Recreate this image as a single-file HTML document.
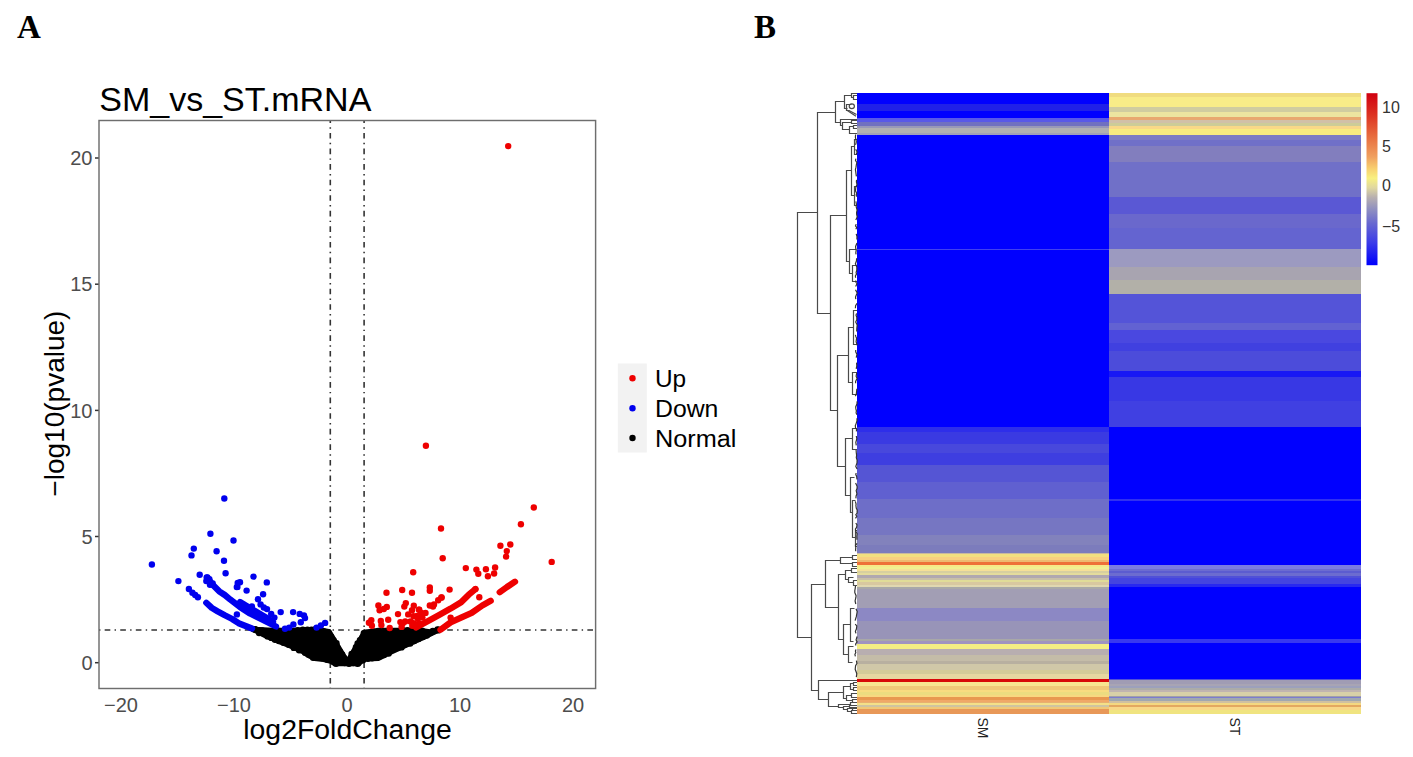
<!DOCTYPE html>
<html><head><meta charset="utf-8"><style>
html,body{margin:0;padding:0;background:#fff;}
svg{display:block;}
text{font-family:"Liberation Sans",sans-serif;}
</style></head><body>
<svg width="1413" height="757" viewBox="0 0 1413 757">
<rect width="1413" height="757" fill="#fff"/>
<text x="17" y="38" style="font-family:'Liberation Serif',serif;font-weight:bold;font-size:33px">A</text>
<text x="754" y="38" style="font-family:'Liberation Serif',serif;font-weight:bold;font-size:33px">B</text>
<text x="99.3" y="110.6" font-size="34" fill="#000">SM_vs_ST.mRNA</text>

<line x1="95" y1="662.7" x2="99" y2="662.7" stroke="#333" stroke-width="1.5"/>
<text x="92.5" y="669.8" font-size="20" fill="#4D4D4D" text-anchor="end">0</text>
<line x1="95" y1="536.5" x2="99" y2="536.5" stroke="#333" stroke-width="1.5"/>
<text x="92.5" y="543.6" font-size="20" fill="#4D4D4D" text-anchor="end">5</text>
<line x1="95" y1="410.4" x2="99" y2="410.4" stroke="#333" stroke-width="1.5"/>
<text x="92.5" y="417.5" font-size="20" fill="#4D4D4D" text-anchor="end">10</text>
<line x1="95" y1="284.2" x2="99" y2="284.2" stroke="#333" stroke-width="1.5"/>
<text x="92.5" y="291.3" font-size="20" fill="#4D4D4D" text-anchor="end">15</text>
<line x1="95" y1="158.0" x2="99" y2="158.0" stroke="#333" stroke-width="1.5"/>
<text x="92.5" y="165.1" font-size="20" fill="#4D4D4D" text-anchor="end">20</text>
<text x="121.0" y="711.8" font-size="20" fill="#4D4D4D" text-anchor="middle">−20</text>
<text x="234.0" y="711.8" font-size="20" fill="#4D4D4D" text-anchor="middle">−10</text>
<text x="347.0" y="711.8" font-size="20" fill="#4D4D4D" text-anchor="middle">0</text>
<text x="460.0" y="711.8" font-size="20" fill="#4D4D4D" text-anchor="middle">10</text>
<text x="573.0" y="711.8" font-size="20" fill="#4D4D4D" text-anchor="middle">20</text>
<text x="347.5" y="739" font-size="27" fill="#000" text-anchor="middle" textLength="208.5" lengthAdjust="spacingAndGlyphs">log2FoldChange</text>
<text transform="translate(64,403.6) rotate(-90)" x="0" y="0" font-size="27" fill="#000" text-anchor="middle" textLength="186" lengthAdjust="spacingAndGlyphs">−log10(pvalue)</text>
<line x1="330.3" y1="688.5" x2="330.3" y2="120.5" stroke="#333" stroke-width="1.6" stroke-dashoffset="0.7" stroke-dasharray="1.42 4.25 5.65 4.25"/>
<line x1="364.1" y1="688.5" x2="364.1" y2="120.5" stroke="#333" stroke-width="1.6" stroke-dashoffset="0.7" stroke-dasharray="1.42 4.25 5.65 4.25"/>
<line x1="99" y1="630" x2="595" y2="630" stroke="#333" stroke-width="1.5" stroke-dasharray="1.42 4.25 5.65 4.25"/>
<path d="M252.0 627.5 L272.6 628.5 L295.0 628.5 L305.3 628.0 L317.3 627.5 L330.2 630.0 L347.3 658.5 L363.2 630.5 L380.0 628.5 L400.0 628.5 L419.9 628.5 L430.0 630.0 L440.5 628.5 L440.5 631.0 L425.9 638.3 L408.7 646.1 L391.5 653.8 L378.6 660.3 L365.8 660.7 L362.0 663.0 L359.8 665.5 L333.9 665.5 L330.2 663.0 L323.3 661.3 L314.3 660.3 L306.4 656.5 L301.1 652.7 L290.6 648.0 L280.0 643.7 L265.0 637.5 L252.0 631.0Z" fill="#000" stroke="#000" stroke-width="1.5" stroke-linejoin="round"/>
<g fill="#000"><circle cx="254.0" cy="629.3" r="3.2"/><circle cx="258.1" cy="630.2" r="3.2"/><circle cx="262.2" cy="630.4" r="3.2"/><circle cx="266.3" cy="631.2" r="3.2"/><circle cx="270.4" cy="631.3" r="3.2"/><circle cx="274.8" cy="631.5" r="3.2"/><circle cx="279.3" cy="631.0" r="3.2"/><circle cx="283.8" cy="631.6" r="3.2"/><circle cx="288.3" cy="631.2" r="3.2"/><circle cx="292.8" cy="631.2" r="3.2"/><circle cx="297.7" cy="630.2" r="3.2"/><circle cx="302.8" cy="629.6" r="3.2"/><circle cx="307.4" cy="629.6" r="3.2"/><circle cx="311.4" cy="629.8" r="3.2"/><circle cx="315.4" cy="629.2" r="3.2"/><circle cx="318.9" cy="630.9" r="3.2"/><circle cx="323.3" cy="631.2" r="3.2"/><circle cx="327.6" cy="632.1" r="3.2"/><circle cx="329.0" cy="633.1" r="3.2"/><circle cx="331.1" cy="636.7" r="3.2"/><circle cx="333.5" cy="640.1" r="3.2"/><circle cx="336.5" cy="643.2" r="3.2"/><circle cx="337.3" cy="647.5" r="3.2"/><circle cx="339.5" cy="651.1" r="3.2"/><circle cx="342.1" cy="654.4" r="3.2"/><circle cx="344.1" cy="658.0" r="3.2"/><circle cx="350.6" cy="658.1" r="3.2"/><circle cx="351.6" cy="654.0" r="3.2"/><circle cx="354.7" cy="651.1" r="3.2"/><circle cx="355.9" cy="647.2" r="3.2"/><circle cx="357.6" cy="643.5" r="3.2"/><circle cx="359.9" cy="640.2" r="3.2"/><circle cx="362.7" cy="637.1" r="3.2"/><circle cx="363.8" cy="633.1" r="3.2"/><circle cx="365.6" cy="633.1" r="3.2"/><circle cx="369.9" cy="633.0" r="3.2"/><circle cx="374.0" cy="631.6" r="3.2"/><circle cx="378.2" cy="630.9" r="3.2"/><circle cx="382.0" cy="630.8" r="3.2"/><circle cx="386.0" cy="631.2" r="3.2"/><circle cx="390.0" cy="631.4" r="3.2"/><circle cx="394.0" cy="631.1" r="3.2"/><circle cx="398.0" cy="631.1" r="3.2"/><circle cx="402.5" cy="630.0" r="3.2"/><circle cx="407.5" cy="630.2" r="3.2"/><circle cx="412.4" cy="630.4" r="3.2"/><circle cx="417.4" cy="631.3" r="3.2"/><circle cx="422.1" cy="630.8" r="3.2"/><circle cx="427.1" cy="632.1" r="3.2"/><circle cx="432.8" cy="631.0" r="3.2"/><circle cx="438.1" cy="630.4" r="3.2"/><circle cx="438.6" cy="629.8" r="3.2"/><circle cx="437.5" cy="629.5" r="3.2"/><circle cx="433.8" cy="631.3" r="3.2"/><circle cx="430.2" cy="633.1" r="3.2"/><circle cx="426.8" cy="635.6" r="3.2"/><circle cx="422.8" cy="637.1" r="3.2"/><circle cx="418.5" cy="639.1" r="3.2"/><circle cx="414.2" cy="641.1" r="3.2"/><circle cx="410.2" cy="643.6" r="3.2"/><circle cx="405.3" cy="644.2" r="3.2"/><circle cx="401.5" cy="647.4" r="3.2"/><circle cx="396.6" cy="647.9" r="3.2"/><circle cx="392.3" cy="649.9" r="3.2"/><circle cx="388.7" cy="653.6" r="3.2"/><circle cx="384.0" cy="655.0" r="3.2"/><circle cx="379.4" cy="656.6" r="3.2"/><circle cx="376.4" cy="657.1" r="3.2"/><circle cx="372.1" cy="658.2" r="3.2"/><circle cx="367.9" cy="658.7" r="3.2"/><circle cx="363.0" cy="660.3" r="3.2"/><circle cx="358.5" cy="662.1" r="3.2"/><circle cx="357.6" cy="663.7" r="3.2"/><circle cx="353.3" cy="663.0" r="3.2"/><circle cx="349.0" cy="663.8" r="3.2"/><circle cx="344.7" cy="663.1" r="3.2"/><circle cx="340.4" cy="662.3" r="3.2"/><circle cx="336.1" cy="663.8" r="3.2"/><circle cx="333.7" cy="661.8" r="3.2"/><circle cx="327.3" cy="659.8" r="3.2"/><circle cx="321.4" cy="658.0" r="3.2"/><circle cx="316.9" cy="657.8" r="3.2"/><circle cx="313.1" cy="657.7" r="3.2"/><circle cx="309.7" cy="654.6" r="3.2"/><circle cx="305.1" cy="652.7" r="3.2"/><circle cx="299.1" cy="650.2" r="3.2"/><circle cx="293.8" cy="647.9" r="3.2"/><circle cx="288.8" cy="644.8" r="3.2"/><circle cx="283.5" cy="642.7" r="3.2"/><circle cx="278.9" cy="641.1" r="3.2"/><circle cx="275.0" cy="639.8" r="3.2"/><circle cx="271.4" cy="637.9" r="3.2"/><circle cx="267.6" cy="636.4" r="3.2"/><circle cx="264.2" cy="633.7" r="3.2"/><circle cx="259.1" cy="633.0" r="3.2"/><circle cx="255.4" cy="629.5" r="3.2"/><circle cx="255.0" cy="629.2" r="3.2"/></g>
<path d="M206.3 602.8 L211.8 607.9 L217.4 611.2 L224.8 615.3 L232.2 619.0 L238.6 623.2 L252.0 628.5" fill="none" stroke="#0000EE" stroke-width="6.3" stroke-linecap="round" stroke-linejoin="round"/><path d="M212.7 584.8 L219.2 591.3 L224.8 595.0 L230.3 599.6 L240.0 607.0 L250.0 613.5 L262.0 619.5 L276.0 626.5" fill="none" stroke="#0000EE" stroke-width="6.3" stroke-linecap="round" stroke-linejoin="round"/><path d="M240.0 602.0 L255.0 611.0 L266.0 617.5 L273.0 622.0" fill="none" stroke="#0000EE" stroke-width="6.3" stroke-linecap="round" stroke-linejoin="round"/><path d="M440.5 629.8 L450.6 622.4 L461.1 617.6 L471.7 612.9 L482.3 605.5 L490.7 600.7" fill="none" stroke="#EE0000" stroke-width="6.3" stroke-linecap="round" stroke-linejoin="round"/><path d="M499.7 592.2 L507.0 587.0 L515.0 581.7" fill="none" stroke="#EE0000" stroke-width="6.3" stroke-linecap="round" stroke-linejoin="round"/><path d="M416.0 627.5 L430.0 620.0 L440.0 614.5 L450.6 608.6 L461.1 602.3 L468.5 594.9 L475.4 589.1" fill="none" stroke="#EE0000" stroke-width="6.3" stroke-linecap="round" stroke-linejoin="round"/>
<g fill="#0000EE"><circle cx="224.3" cy="498.5" r="3.2"/><circle cx="210.4" cy="533.8" r="3.2"/><circle cx="233.5" cy="540.5" r="3.2"/><circle cx="193.8" cy="548.6" r="3.2"/><circle cx="216.6" cy="551.3" r="3.2"/><circle cx="191.5" cy="555.4" r="3.2"/><circle cx="151.9" cy="564.5" r="3.2"/><circle cx="224.0" cy="560.8" r="3.2"/><circle cx="225.6" cy="573.3" r="3.2"/><circle cx="199.7" cy="574.8" r="3.2"/><circle cx="207.4" cy="577.5" r="3.2"/><circle cx="209.4" cy="579.1" r="3.2"/><circle cx="178.4" cy="581.1" r="3.2"/><circle cx="206.7" cy="577.4" r="3.2"/><circle cx="208.2" cy="579.3" r="3.2"/><circle cx="210.4" cy="582.0" r="3.2"/><circle cx="212.7" cy="583.4" r="3.2"/><circle cx="206.3" cy="581.1" r="3.2"/><circle cx="210.0" cy="584.8" r="3.2"/><circle cx="188.9" cy="589.0" r="3.2"/><circle cx="192.4" cy="592.7" r="3.2"/><circle cx="195.2" cy="595.0" r="3.2"/><circle cx="197.9" cy="597.3" r="3.2"/><circle cx="237.7" cy="583.0" r="3.2"/><circle cx="236.8" cy="587.1" r="3.2"/><circle cx="253.5" cy="576.6" r="3.2"/><circle cx="240.0" cy="582.2" r="3.2"/><circle cx="237.4" cy="586.9" r="3.2"/><circle cx="266.8" cy="582.4" r="3.2"/><circle cx="246.6" cy="590.6" r="3.2"/><circle cx="263.1" cy="594.3" r="3.2"/><circle cx="258.0" cy="599.3" r="3.2"/><circle cx="260.6" cy="604.4" r="3.2"/><circle cx="263.8" cy="607.5" r="3.2"/><circle cx="267.0" cy="609.1" r="3.2"/><circle cx="251.9" cy="606.5" r="3.2"/><circle cx="271.2" cy="613.9" r="3.2"/><circle cx="274.4" cy="617.6" r="3.2"/><circle cx="280.7" cy="612.1" r="3.2"/><circle cx="293.1" cy="612.1" r="3.2"/><circle cx="299.7" cy="613.9" r="3.2"/><circle cx="304.0" cy="615.5" r="3.2"/><circle cx="305.0" cy="618.1" r="3.2"/><circle cx="300.8" cy="622.3" r="3.2"/><circle cx="293.4" cy="624.5" r="3.2"/><circle cx="289.2" cy="627.6" r="3.2"/><circle cx="285.0" cy="628.7" r="3.2"/><circle cx="325.1" cy="622.9" r="3.2"/><circle cx="320.9" cy="625.5" r="3.2"/><circle cx="316.6" cy="627.6" r="3.2"/><circle cx="236.9" cy="614.4" r="3.2"/></g>
<g fill="#EE0000"><circle cx="508.2" cy="146.1" r="3.2"/><circle cx="425.9" cy="445.8" r="3.2"/><circle cx="533.8" cy="507.5" r="3.2"/><circle cx="520.9" cy="524.3" r="3.2"/><circle cx="441.0" cy="528.5" r="3.2"/><circle cx="500.4" cy="545.7" r="3.2"/><circle cx="510.3" cy="544.5" r="3.2"/><circle cx="506.8" cy="551.1" r="3.2"/><circle cx="506.1" cy="556.6" r="3.2"/><circle cx="442.7" cy="558.3" r="3.2"/><circle cx="551.7" cy="561.9" r="3.2"/><circle cx="413.2" cy="572.2" r="3.2"/><circle cx="465.8" cy="568.1" r="3.2"/><circle cx="476.4" cy="569.6" r="3.2"/><circle cx="478.3" cy="573.8" r="3.2"/><circle cx="485.9" cy="569.2" r="3.2"/><circle cx="495.1" cy="567.5" r="3.2"/><circle cx="494.1" cy="573.5" r="3.2"/><circle cx="487.9" cy="576.2" r="3.2"/><circle cx="402.2" cy="590.0" r="3.2"/><circle cx="412.0" cy="592.7" r="3.2"/><circle cx="429.8" cy="587.5" r="3.2"/><circle cx="429.8" cy="590.7" r="3.2"/><circle cx="449.6" cy="589.6" r="3.2"/><circle cx="386.5" cy="592.7" r="3.2"/><circle cx="378.4" cy="605.5" r="3.2"/><circle cx="386.8" cy="606.9" r="3.2"/><circle cx="379.6" cy="610.2" r="3.2"/><circle cx="383.8" cy="609.0" r="3.2"/><circle cx="405.8" cy="603.1" r="3.2"/><circle cx="404.3" cy="606.6" r="3.2"/><circle cx="413.8" cy="605.8" r="3.2"/><circle cx="418.9" cy="609.6" r="3.2"/><circle cx="412.0" cy="610.2" r="3.2"/><circle cx="398.0" cy="614.1" r="3.2"/><circle cx="408.2" cy="614.4" r="3.2"/><circle cx="413.5" cy="616.2" r="3.2"/><circle cx="371.3" cy="620.3" r="3.2"/><circle cx="368.9" cy="622.7" r="3.2"/><circle cx="371.9" cy="625.7" r="3.2"/><circle cx="380.8" cy="620.9" r="3.2"/><circle cx="381.4" cy="625.1" r="3.2"/><circle cx="388.2" cy="619.7" r="3.2"/><circle cx="389.7" cy="628.0" r="3.2"/><circle cx="400.4" cy="622.1" r="3.2"/><circle cx="402.8" cy="623.3" r="3.2"/><circle cx="405.2" cy="621.5" r="3.2"/><circle cx="401.6" cy="626.9" r="3.2"/><circle cx="410.5" cy="621.5" r="3.2"/><circle cx="413.5" cy="623.3" r="3.2"/><circle cx="412.3" cy="625.7" r="3.2"/><circle cx="417.7" cy="618.5" r="3.2"/><circle cx="418.9" cy="623.3" r="3.2"/><circle cx="421.3" cy="612.9" r="3.2"/><circle cx="425.5" cy="612.9" r="3.2"/><circle cx="417.1" cy="616.0" r="3.2"/><circle cx="422.4" cy="617.6" r="3.2"/><circle cx="419.2" cy="609.7" r="3.2"/><circle cx="429.8" cy="605.5" r="3.2"/><circle cx="434.0" cy="604.4" r="3.2"/><circle cx="438.2" cy="600.2" r="3.2"/><circle cx="441.4" cy="597.5" r="3.2"/><circle cx="433.0" cy="606.5" r="3.2"/><circle cx="441.6" cy="597.5" r="3.2"/><circle cx="475.4" cy="589.1" r="3.2"/><circle cx="479.3" cy="597.2" r="3.2"/><circle cx="450.6" cy="617.6" r="3.2"/></g>
<rect x="99" y="120.5" width="496.6" height="568" fill="none" stroke="#6e6e6e" stroke-width="1.45"/>
<rect x="617.8" y="363.5" width="29" height="89" fill="#F2F2F2"/>
<circle cx="632.5" cy="378.2" r="3.2" fill="#EE0000"/>
<circle cx="632.5" cy="408.2" r="3.2" fill="#0000EE"/>
<circle cx="632.5" cy="438" r="3.2" fill="#000"/>
<text x="655" y="386.6" font-size="23.5" fill="#000" textLength="31.2" lengthAdjust="spacingAndGlyphs">Up</text>
<text x="655" y="416.9" font-size="23.5" fill="#000" textLength="63.4" lengthAdjust="spacingAndGlyphs">Down</text>
<text x="655" y="446.6" font-size="23.5" fill="#000" textLength="81.4" lengthAdjust="spacingAndGlyphs">Normal</text>
<g shape-rendering="crispEdges"><rect x="857.0" y="92.8" width="252.0" height="11.0" fill="#0000FF"/>
<rect x="857.0" y="103.8" width="252.0" height="6.8" fill="#2020E8"/>
<rect x="857.0" y="110.6" width="252.0" height="7.6" fill="#0000FF"/>
<rect x="857.0" y="118.2" width="252.0" height="3.4" fill="#5858E8"/>
<rect x="857.0" y="121.6" width="252.0" height="4.5" fill="#7070C0"/>
<rect x="857.0" y="126.1" width="252.0" height="1.7" fill="#9898B8"/>
<rect x="857.0" y="127.8" width="252.0" height="4.8" fill="#B0B0B0"/>
<rect x="857.0" y="132.6" width="252.0" height="2.1" fill="#A0A0B8"/>
<rect x="857.0" y="134.7" width="252.0" height="291.9" fill="#0000FF"/>
<rect x="857.0" y="248.5" width="252.0" height="1.5" fill="#4040F0"/>
<rect x="857.0" y="426.6" width="252.0" height="5.3" fill="#2E2EEA"/>
<rect x="857.0" y="431.9" width="252.0" height="12.0" fill="#3A3AE2"/>
<rect x="857.0" y="443.9" width="252.0" height="8.6" fill="#4848DC"/>
<rect x="857.0" y="452.5" width="252.0" height="12.0" fill="#3E3EE0"/>
<rect x="857.0" y="464.5" width="252.0" height="17.2" fill="#5555D4"/>
<rect x="857.0" y="481.7" width="252.0" height="17.1" fill="#6060D0"/>
<rect x="857.0" y="498.8" width="252.0" height="18.9" fill="#6E6EC8"/>
<rect x="857.0" y="517.7" width="252.0" height="17.2" fill="#7676C2"/>
<rect x="857.0" y="534.9" width="252.0" height="10.3" fill="#8282BC"/>
<rect x="857.0" y="545.2" width="252.0" height="7.8" fill="#7C7CBC"/>
<rect x="857.0" y="553.0" width="252.0" height="1.2" fill="#C8B8A0"/>
<rect x="857.0" y="554.2" width="252.0" height="2.7" fill="#F2E080"/>
<rect x="857.0" y="556.9" width="252.0" height="3.5" fill="#F8D080"/>
<rect x="857.0" y="560.4" width="252.0" height="1.7" fill="#EEB870"/>
<rect x="857.0" y="562.1" width="252.0" height="2.7" fill="#EE7038"/>
<rect x="857.0" y="564.8" width="252.0" height="2.1" fill="#F6E888"/>
<rect x="857.0" y="566.9" width="252.0" height="2.4" fill="#F0F090"/>
<rect x="857.0" y="569.3" width="252.0" height="2.0" fill="#F5E098"/>
<rect x="857.0" y="571.3" width="252.0" height="2.1" fill="#D8D0A0"/>
<rect x="857.0" y="573.4" width="252.0" height="1.7" fill="#E4DC9C"/>
<rect x="857.0" y="575.1" width="252.0" height="3.1" fill="#B0A8B0"/>
<rect x="857.0" y="578.2" width="252.0" height="1.4" fill="#C8C0A8"/>
<rect x="857.0" y="579.6" width="252.0" height="2.7" fill="#E0DC98"/>
<rect x="857.0" y="582.3" width="252.0" height="2.8" fill="#D8C8A0"/>
<rect x="857.0" y="585.1" width="252.0" height="2.0" fill="#E0D8B0"/>
<rect x="857.0" y="587.1" width="252.0" height="2.1" fill="#A8A8A8"/>
<rect x="857.0" y="589.2" width="252.0" height="19.1" fill="#A29EB4"/>
<rect x="857.0" y="608.3" width="252.0" height="13.0" fill="#8C88C4"/>
<rect x="857.0" y="621.3" width="252.0" height="17.2" fill="#9894B8"/>
<rect x="857.0" y="638.5" width="252.0" height="2.4" fill="#A8A8A8"/>
<rect x="857.0" y="640.9" width="252.0" height="2.7" fill="#A094C0"/>
<rect x="857.0" y="643.6" width="252.0" height="5.0" fill="#F4EE84"/>
<rect x="857.0" y="648.6" width="252.0" height="6.0" fill="#B8AEB0"/>
<rect x="857.0" y="654.6" width="252.0" height="6.2" fill="#C4BCA8"/>
<rect x="857.0" y="660.8" width="252.0" height="3.4" fill="#B8B0A0"/>
<rect x="857.0" y="664.2" width="252.0" height="5.5" fill="#D0C8A8"/>
<rect x="857.0" y="669.7" width="252.0" height="4.1" fill="#D4CC98"/>
<rect x="857.0" y="673.8" width="252.0" height="5.5" fill="#E6D8A0"/>
<rect x="857.0" y="679.3" width="252.0" height="2.8" fill="#D80808"/>
<rect x="857.0" y="682.1" width="252.0" height="4.1" fill="#F8E490"/>
<rect x="857.0" y="686.2" width="252.0" height="4.1" fill="#F0C878"/>
<rect x="857.0" y="690.3" width="252.0" height="1.7" fill="#F8DC80"/>
<rect x="857.0" y="692.0" width="252.0" height="2.8" fill="#ECDC80"/>
<rect x="857.0" y="694.8" width="252.0" height="1.9" fill="#F8D880"/>
<rect x="857.0" y="696.7" width="252.0" height="3.6" fill="#E89850"/>
<rect x="857.0" y="700.3" width="252.0" height="1.2" fill="#F0A868"/>
<rect x="857.0" y="701.5" width="252.0" height="1.2" fill="#E8B070"/>
<rect x="857.0" y="702.7" width="252.0" height="2.0" fill="#F4E088"/>
<rect x="857.0" y="704.7" width="252.0" height="1.9" fill="#D0C4A0"/>
<rect x="857.0" y="706.6" width="252.0" height="2.4" fill="#F0C878"/>
<rect x="857.0" y="709.0" width="252.0" height="4.8" fill="#E89858"/></g>
<g shape-rendering="crispEdges"><rect x="1109.0" y="92.8" width="252.0" height="4.1" fill="#F0DC80"/>
<rect x="1109.0" y="96.9" width="252.0" height="10.3" fill="#F8EC88"/>
<rect x="1109.0" y="107.2" width="252.0" height="4.8" fill="#D0CCA0"/>
<rect x="1109.0" y="112.0" width="252.0" height="4.9" fill="#ECE4A0"/>
<rect x="1109.0" y="116.9" width="252.0" height="2.7" fill="#E8A870"/>
<rect x="1109.0" y="119.6" width="252.0" height="3.4" fill="#D0C0A8"/>
<rect x="1109.0" y="123.0" width="252.0" height="2.8" fill="#CCCC98"/>
<rect x="1109.0" y="125.8" width="252.0" height="3.4" fill="#F8D888"/>
<rect x="1109.0" y="129.2" width="252.0" height="5.5" fill="#F8EC80"/>
<rect x="1109.0" y="134.7" width="252.0" height="4.8" fill="#7C7CC4"/>
<rect x="1109.0" y="139.5" width="252.0" height="6.3" fill="#7070C8"/>
<rect x="1109.0" y="145.8" width="252.0" height="15.9" fill="#827EBE"/>
<rect x="1109.0" y="161.7" width="252.0" height="34.9" fill="#7070C8"/>
<rect x="1109.0" y="196.6" width="252.0" height="17.4" fill="#5A58D4"/>
<rect x="1109.0" y="214.0" width="252.0" height="14.3" fill="#6A68CC"/>
<rect x="1109.0" y="228.3" width="252.0" height="20.7" fill="#6464D0"/>
<rect x="1109.0" y="249.0" width="252.0" height="17.6" fill="#9C9AC0"/>
<rect x="1109.0" y="266.6" width="252.0" height="13.1" fill="#A8A4B0"/>
<rect x="1109.0" y="279.7" width="252.0" height="14.3" fill="#B2B0A8"/>
<rect x="1109.0" y="294.0" width="252.0" height="28.8" fill="#5454D8"/>
<rect x="1109.0" y="322.8" width="252.0" height="7.6" fill="#6262D2"/>
<rect x="1109.0" y="330.4" width="252.0" height="12.6" fill="#4A48E0"/>
<rect x="1109.0" y="343.0" width="252.0" height="8.4" fill="#4040E0"/>
<rect x="1109.0" y="351.4" width="252.0" height="19.1" fill="#4C4CDA"/>
<rect x="1109.0" y="370.5" width="252.0" height="6.3" fill="#1818F4"/>
<rect x="1109.0" y="376.8" width="252.0" height="24.2" fill="#3838E4"/>
<rect x="1109.0" y="401.0" width="252.0" height="25.6" fill="#4040E2"/>
<rect x="1109.0" y="426.6" width="252.0" height="72.4" fill="#0000FF"/>
<rect x="1109.0" y="499.0" width="252.0" height="2.0" fill="#3030F0"/>
<rect x="1109.0" y="501.0" width="252.0" height="63.8" fill="#0000FF"/>
<rect x="1109.0" y="564.8" width="252.0" height="3.9" fill="#7C7CE0"/>
<rect x="1109.0" y="568.7" width="252.0" height="2.3" fill="#6C6CD0"/>
<rect x="1109.0" y="571.0" width="252.0" height="1.8" fill="#5C5CD0"/>
<rect x="1109.0" y="572.8" width="252.0" height="3.0" fill="#6C6CD0"/>
<rect x="1109.0" y="575.8" width="252.0" height="1.8" fill="#5050D8"/>
<rect x="1109.0" y="577.6" width="252.0" height="5.9" fill="#4444E0"/>
<rect x="1109.0" y="583.5" width="252.0" height="3.6" fill="#2828F0"/>
<rect x="1109.0" y="587.1" width="252.0" height="51.9" fill="#0000FF"/>
<rect x="1109.0" y="639.0" width="252.0" height="3.5" fill="#3838F0"/>
<rect x="1109.0" y="642.5" width="252.0" height="36.7" fill="#0000FF"/>
<rect x="1109.0" y="679.2" width="252.0" height="0.9" fill="#5050D8"/>
<rect x="1109.0" y="680.1" width="252.0" height="3.4" fill="#A09CB4"/>
<rect x="1109.0" y="683.5" width="252.0" height="2.3" fill="#A8A4B4"/>
<rect x="1109.0" y="685.8" width="252.0" height="2.3" fill="#9CA0BC"/>
<rect x="1109.0" y="688.1" width="252.0" height="2.2" fill="#ACACA8"/>
<rect x="1109.0" y="690.3" width="252.0" height="1.7" fill="#C0B4B0"/>
<rect x="1109.0" y="692.0" width="252.0" height="3.5" fill="#D8D0A8"/>
<rect x="1109.0" y="695.5" width="252.0" height="1.1" fill="#A0A0A8"/>
<rect x="1109.0" y="696.6" width="252.0" height="1.7" fill="#7C7CD0"/>
<rect x="1109.0" y="698.3" width="252.0" height="2.3" fill="#A0A8B0"/>
<rect x="1109.0" y="700.6" width="252.0" height="2.2" fill="#D0C0A0"/>
<rect x="1109.0" y="702.8" width="252.0" height="2.3" fill="#F4D880"/>
<rect x="1109.0" y="705.1" width="252.0" height="2.3" fill="#E4A860"/>
<rect x="1109.0" y="707.4" width="252.0" height="2.8" fill="#F8D888"/>
<rect x="1109.0" y="710.2" width="252.0" height="3.6" fill="#F0E480"/></g>
<g stroke="#4a4a4a" stroke-width="1.2" fill="none"><path d="M817.5 212.5H797.5V637.5H811.5"/><path d="M835.5 112.5H817.5V313.5H830.5"/><path d="M844.5 101.5H835.5V122.5H840.5"/><path d="M851.5 95.5H844.5V108.5H847.5"/><path d="M857 93.5H851.5V97.5H853.5"/><path d="M857 95.5H853.5V99.5H857"/><path d="M851.5 104.5H846.5V110.5H849.5"/><ellipse cx="851.8" cy="106.2" rx="2.6" ry="2.4"/><path d="M846.6 110 L856 116.2"/><path d="M849 110.5 L856.5 114.5"/><path d="M857 119.5H840.5V125.5H842.5"/><path d="M851.5 122.5H842.5V129.5H849.5"/><path d="M857 120.5H851.5V123.5H857"/><path d="M853.5 126.5H849.5V133.5H857"/><path d="M857 125.5H853.5V128.5H857"/><path d="M846.5 215.5H830.5V410.5H837.5"/><path d="M851.5 170.5H846.5V261.5H849.5"/><path d="M854.5 146.5H851.5V195.5H854.5"/><path d="M857 139.5H854.5V154.5H857"/><path d="M857 186.5H854.5V205.5H857"/><path d="M856.5 249.5H849.5V273.5H852.5"/><path d="M857 265.5H852.5V281.5H857"/><path d="M848.5 355.5H837.5V466.5H845.5"/><path d="M853.5 327.5H848.5V382.5H852.5"/><path d="M857 310.5H853.5V344.5H857"/><path d="M857 372.5H852.5V394.5H857"/><path d="M852.5 438.5H845.5V495.5H850.5"/><path d="M857 428.5H852.5V449.5H857"/><path d="M854.5 477.5H850.5V512.5H852.5"/><path d="M855.5 500.5H852.5V537.5H855.5"/><path d="M857 530.5H855.5V546.5H857"/><path d="M825.5 584.5H811.5V690.5H818.5"/><path d="M840.5 560.5H825.5V607.5H838.5"/><path d="M852.5 557.5H840.5V563.5H852.5"/><path d="M857 555.5H852.5V559.5H857"/><path d="M857 562.5H852.5V566.5H857"/><path d="M845.5 574.5H838.5V639.5H843.5"/><path d="M851.5 570.5H845.5V579.5H848.5"/><path d="M857 568.5H851.5V572.5H857"/><path d="M853.5 577.5H848.5V582.5H853.5"/><path d="M857 580.5H853.5V585.5H857"/><path d="M850.5 624.5H843.5V654.5H848.5"/><path d="M854.5 608.5H850.5V641.5H853.5"/><path d="M853.5 646.5H848.5V662.5H852.5"/><path d="M857 680.5H818.5V699.5H828.5"/><path d="M843.5 692.5H828.5V706.5H838.5"/><path d="M850.5 686.5H843.5V698.5H846.5"/><path d="M853.5 683.5H850.5V689.5H853.5"/><path d="M857 682.5H853.5V685.5H857"/><path d="M857 687.5H853.5V690.5H857"/><path d="M851.5 695.5H846.5V700.5H852.5"/><path d="M857 693.5H851.5V697.5H857"/><path d="M857 699.5H852.5V702.5H857"/><path d="M850.5 704.5H838.5V707.5H843.5"/><path d="M857 702.5H850.5V705.5H857"/><path d="M849.5 706.5H843.5V709.5H847.5"/><path d="M857 705.5H849.5V707.5H857"/><path d="M852.5 708.5H847.5V711.5H851.5"/><path d="M857 708.5H852.5V710.5H857"/><path d="M857 710.5H851.5V713.5H857"/><path d="M855.6 134.5 L855.4 137.3 L856.0 139.9 L856.3 141.5 L856.1 143.1 L855.5 144.7" stroke="#333"/><path d="M855.7 149.2 L857.1 152.0 L856.1 154.6" stroke="#333"/><path d="M855.9 158.7 L855.5 160.5 L856.9 162.6 L856.4 164.4 L856.0 167.2 L855.4 169.8 L855.7 171.4 L856.1 174.3 L856.4 176.4" stroke="#333"/><path d="M856.6 179.9 L856.4 181.9 L857.0 184.5 L855.8 187.4 L855.5 190.9 L856.7 193.2 L856.2 195.0 L856.6 196.6" stroke="#333"/><path d="M855.9 201.3 L856.4 204.2 L856.2 206.8 L857.1 210.0 L856.6 212.4 L856.6 214.1 L857.2 216.9 L855.8 220.0" stroke="#333"/><path d="M856.2 224.1 L855.5 226.0 L856.8 227.6 L855.8 229.3" stroke="#333"/><path d="M856.2 233.9 L857.0 236.5 L856.9 239.6" stroke="#333"/><path d="M857.0 243.0 L855.6 246.4 L855.7 248.2 L856.2 250.2 L855.8 252.9 L856.1 254.4" stroke="#333"/><path d="M856.6 258.3 L856.5 260.8 L855.4 263.7 L856.8 267.0 L856.8 270.2 L856.1 272.5 L856.5 274.2 L855.4 275.8 L855.6 277.7" stroke="#333"/><path d="M855.6 280.5 L856.0 282.2 L857.0 283.8 L855.6 286.5" stroke="#333"/><path d="M855.5 289.7 L857.2 292.9 L856.2 295.3 L855.5 297.0 L855.8 299.2" stroke="#333"/><path d="M857.1 303.2 L855.6 305.7 L855.4 308.3" stroke="#333"/><path d="M856.6 313.3 L856.0 315.3 L856.8 317.2 L856.8 319.7 L855.7 321.9 L857.2 325.0 L856.8 328.2 L856.7 331.4" stroke="#333"/><path d="M855.4 334.9 L855.8 336.4 L856.6 338.4 L856.1 341.8 L857.2 345.2" stroke="#333"/><path d="M855.7 349.9 L855.7 351.8 L857.0 354.5 L856.2 357.7" stroke="#333"/><path d="M856.6 362.6 L856.8 365.9 L856.2 368.9" stroke="#333"/><path d="M856.8 372.8 L856.1 376.3 L857.1 378.6 L855.6 381.5 L855.6 383.3" stroke="#333"/><path d="M856.9 388.7 L856.5 392.2 L856.3 394.4 L855.3 396.1" stroke="#333"/><path d="M857.1 401.4 L857.0 403.7 L855.7 406.9 L855.9 408.9 L856.4 410.9 L856.1 412.9 L857.0 414.7" stroke="#333"/><path d="M857.0 418.3 L857.0 420.6 L856.3 423.1 L855.3 425.7 L855.6 428.1 L856.8 429.6 L856.2 431.4" stroke="#333"/><path d="M856.3 436.0 L856.8 438.6 L856.4 440.3 L855.8 442.3 L856.3 445.3" stroke="#333"/><path d="M856.1 450.0 L856.3 452.7 L856.6 455.2 L856.3 457.6 L857.1 460.1 L857.0 463.0 L855.8 466.4 L857.1 469.0" stroke="#333"/><path d="M856.1 473.0 L855.8 474.6 L856.6 476.2 L857.0 479.3" stroke="#333"/><path d="M855.6 483.1 L857.1 486.3 L857.1 488.3 L856.2 490.6 L856.9 494.0 L856.1 495.9 L855.9 498.4" stroke="#333"/><path d="M855.3 501.4 L856.1 504.0 L855.9 505.6 L856.3 508.3 L857.2 509.9 L857.1 513.0 L855.8 514.7 L856.8 516.3 L855.5 518.3" stroke="#333"/><path d="M855.8 523.0 L857.0 524.8 L856.6 527.4 L855.4 529.1 L856.1 532.0 L857.1 533.6 L856.8 536.4 L856.9 538.1 L856.9 539.7" stroke="#333"/><path d="M857.1 543.3 L855.5 545.3 L855.8 547.9 L855.6 549.6 L855.7 551.2" stroke="#333"/><path d="M855.5 586.0 L855.2 588.5 L854.8 590.7 L854.8 592.7 L856.1 595.7 L855.9 597.5 L855.1 600.9 L855.8 604.0" stroke="#333"/><path d="M856.0 608.7 L857.2 611.6 L856.8 613.8 L856.3 616.7 L855.6 619.0 L855.1 620.6" stroke="#333"/><path d="M855.2 624.2 L856.8 625.9 L856.4 629.1 L855.4 631.2 L855.9 633.3" stroke="#333"/><path d="M857.1 636.5 L856.1 639.9 L857.1 641.9 L855.7 644.0 L855.7 645.5" stroke="#333"/><path d="M856.0 649.5 L855.4 651.0 L855.8 652.7 L854.9 654.3 L855.4 656.4" stroke="#333"/><path d="M856.4 660.6 L856.9 663.5 L855.6 665.8 L855.2 669.3 L856.3 672.2 L856.8 673.8 L856.3 677.1" stroke="#333"/></g>
<defs><linearGradient id="cb" x1="0" y1="1" x2="0" y2="0">
<stop offset="0" stop-color="#0000FF"/>
<stop offset="0.022" stop-color="#0808F8"/>
<stop offset="0.133" stop-color="#3C3CE8"/>
<stop offset="0.244" stop-color="#6868D0"/>
<stop offset="0.326" stop-color="#9090C0"/>
<stop offset="0.395" stop-color="#B8B0B0"/>
<stop offset="0.451" stop-color="#E0D8A0"/>
<stop offset="0.506" stop-color="#F8F080"/>
<stop offset="0.561" stop-color="#F8D070"/>
<stop offset="0.630" stop-color="#F0A060"/>
<stop offset="0.741" stop-color="#E87040"/>
<stop offset="0.879" stop-color="#DC3020"/>
<stop offset="1" stop-color="#D00010"/>
</linearGradient></defs>
<rect x="1366.5" y="93.2" width="11" height="172" fill="url(#cb)"/>
<text x="1382" y="112.5" font-size="16" fill="#333">10</text>
<text x="1382" y="152.2" font-size="16" fill="#333">5</text>
<text x="1382" y="191.3" font-size="16" fill="#333">0</text>
<text x="1382" y="231.7" font-size="16" fill="#333">−5</text>
<text transform="translate(978.2,717.5) rotate(90)" font-size="14" fill="#222">SM</text>
<text transform="translate(1229.6,717.5) rotate(90)" font-size="14" fill="#222">ST</text>
</svg></body></html>
